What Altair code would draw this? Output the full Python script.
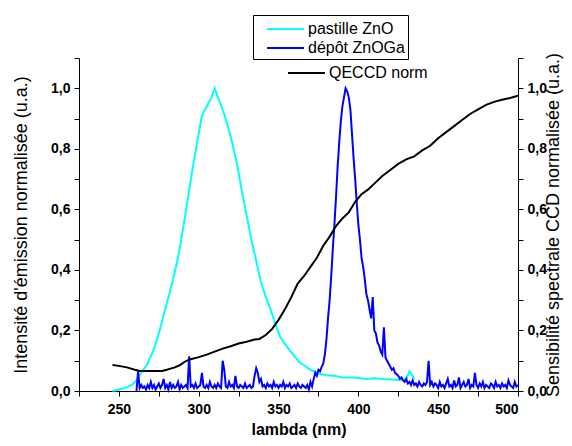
import altair as alt
import pandas as pd

# pastille ZnO (cyan)
zno_nm = [246, 250, 255, 258, 261, 264, 268, 272, 275, 278, 281, 284, 287, 290, 293, 296, 299,
          302, 305, 308, 310, 312, 315, 318, 321, 324, 327, 330, 333, 336, 339, 342, 345, 348,
          351, 354, 357, 360, 363, 366, 370, 375, 380, 385, 390, 395, 400, 405, 410, 415, 420,
          425, 430, 432, 434, 435]
zno_val = [0.0, 0.005, 0.012, 0.02, 0.035, 0.06, 0.09, 0.14, 0.19, 0.25, 0.31, 0.37, 0.44, 0.53,
           0.63, 0.73, 0.82, 0.91, 0.94, 0.97, 1.0, 0.97, 0.93, 0.88, 0.82, 0.75, 0.66, 0.58, 0.50,
           0.43, 0.36, 0.31, 0.27, 0.22, 0.18, 0.155, 0.135, 0.115, 0.095, 0.085, 0.07, 0.058,
           0.052, 0.05, 0.045, 0.045, 0.043, 0.04, 0.042, 0.04, 0.038, 0.036, 0.04, 0.065, 0.05,
           0.04]

# dépôt ZnOGa (blue), one value per nm from 261 to 500
ga_nm = list(range(261, 501))
ga_val = [
    0.0, 0.065, 0.01, 0.02, 0.01, 0.015, 0.005, 0.02, 0.01, 0.03,
    0.01, 0.02, 0.005, 0.015, 0.025, 0.01, 0.02, 0.04, 0.01, 0.02,
    0.005, 0.03, 0.01, 0.02, 0.01, 0.015, 0.03, 0.005, 0.02, 0.01,
    0.015, 0.02, 0.01, 0.115, 0.015, 0.02, 0.01, 0.025, 0.01, 0.015,
    0.02, 0.06, 0.015, 0.01, 0.02, 0.01, 0.03, 0.015, 0.01, 0.02,
    0.01, 0.025, 0.015, 0.01, 0.10, 0.07, 0.015, 0.01, 0.03, 0.015,
    0.02, 0.01, 0.05, 0.015, 0.01, 0.02, 0.015, 0.01, 0.025, 0.01,
    0.015, 0.02, 0.01, 0.015, 0.05, 0.075, 0.06, 0.03, 0.04, 0.015,
    0.02, 0.01, 0.025, 0.015, 0.02, 0.01, 0.03, 0.015, 0.02, 0.01,
    0.02, 0.015, 0.03, 0.01, 0.02, 0.015, 0.025, 0.01, 0.015, 0.02,
    0.01, 0.025, 0.015, 0.01, 0.02, 0.015, 0.01, 0.02, 0.005, 0.03,
    0.015, 0.04, 0.06, 0.05, 0.07, 0.065, 0.08, 0.09, 0.12, 0.17,
    0.24, 0.30, 0.38, 0.47, 0.55, 0.64, 0.74, 0.82, 0.89, 0.94,
    0.97, 1.0, 0.99, 0.97, 0.93, 0.85, 0.77, 0.70, 0.62, 0.55,
    0.50, 0.44, 0.41, 0.37, 0.32, 0.30, 0.27, 0.24, 0.31, 0.20,
    0.19, 0.16, 0.15, 0.13, 0.12, 0.21, 0.11, 0.10, 0.09, 0.08,
    0.07, 0.075, 0.06, 0.055, 0.05, 0.04, 0.045, 0.035, 0.03, 0.04,
    0.025, 0.03, 0.02, 0.035, 0.02, 0.025, 0.015, 0.03, 0.02, 0.015,
    0.025, 0.02, 0.03, 0.10, 0.02, 0.03, 0.015, 0.025, 0.02, 0.01,
    0.03, 0.015, 0.02, 0.01, 0.025, 0.04, 0.015, 0.02, 0.01, 0.035,
    0.015, 0.02, 0.045, 0.01, 0.02, 0.03, 0.015, 0.02, 0.04, 0.01,
    0.02, 0.015, 0.06, 0.02, 0.01, 0.025, 0.015, 0.03, 0.01, 0.02,
    0.015, 0.01, 0.025, 0.02, 0.01, 0.03, 0.015, 0.02, 0.01, 0.025,
    0.015, 0.02, 0.01, 0.035, 0.02, 0.015, 0.01, 0.03, 0.015, 0.02,
]

# QECCD norm (black, right axis)
qe_nm = [246, 250, 255, 260, 263, 270, 277, 280, 285, 288, 292, 295, 300, 305, 310, 315, 320,
         325, 330, 335, 338, 342, 346, 350, 354, 358, 362, 366, 370, 374, 378, 382, 386, 390,
         394, 398, 402, 406, 410, 415, 420, 425, 430, 435, 440, 445, 450, 455, 460, 465, 470,
         475, 480, 485, 490, 495, 500]
qe_val = [0.086, 0.083, 0.078, 0.07, 0.066, 0.066, 0.066, 0.07, 0.078, 0.085, 0.099, 0.105,
          0.112, 0.12, 0.13, 0.14, 0.148, 0.157, 0.163, 0.17, 0.172, 0.185, 0.205, 0.235, 0.27,
          0.31, 0.355, 0.38, 0.41, 0.44, 0.48, 0.51, 0.545, 0.57, 0.59, 0.625, 0.65, 0.665,
          0.685, 0.71, 0.73, 0.75, 0.765, 0.775, 0.795, 0.81, 0.835, 0.855, 0.875, 0.895, 0.915,
          0.93, 0.945, 0.955, 0.962, 0.968, 0.975]

em_series = ["pastille ZnO", "dépôt ZnOGa"]
em_colors = ["#00FFFF", "#0000FF"]
x_ticks = [225, 250, 275, 300, 325, 350, 375, 400, 425, 450, 475, 500]
y_ticks = [0.0, 0.1, 0.2, 0.3, 0.4, 0.5, 0.6, 0.7, 0.8, 0.9, 1.0, 1.1]

FONT = "Liberation Sans"
LINE_SYMBOL = "M0,0H3.7"

df_zno = pd.DataFrame({"nm": zno_nm, "val": zno_val, "serie": em_series[0]})
df_ga = pd.DataFrame({"nm": ga_nm, "val": ga_val, "serie": em_series[1]})
df_qe = pd.DataFrame({"nm": qe_nm, "val": qe_val, "serie": "QECCD norm"})

x_enc = alt.X(
    "nm:Q",
    scale=alt.Scale(domain=[225, 500], nice=False, zero=False),
    axis=alt.Axis(
        values=x_ticks,
        labelExpr="datum.value % 50 == 0 ? datum.label : ''",
        labelPadding=6,
        title="lambda (nm)",
        titleFontWeight="bold",
        titleFontSize=16,
        titlePadding=5,
    ),
)

y_label_expr = "round(datum.value * 10) % 2 == 0 ? replace(format(datum.value, '.1f'), '.', ',') : ''"

y_left = alt.Y(
    "val:Q",
    scale=alt.Scale(domain=[0, 1.1], nice=False),
    axis=alt.Axis(
        orient="left",
        values=y_ticks,
        labelExpr=y_label_expr,
        title="Intensité d'émission normalisée (u.a.)",
        titlePadding=20,
    ),
)

y_right = alt.Y(
    "val:Q",
    scale=alt.Scale(domain=[0, 1.1], nice=False),
    axis=alt.Axis(
        orient="right",
        values=y_ticks,
        labelExpr=y_label_expr,
        title="Sensibilité spectrale CCD normalisée (u.a.)",
        titleAngle=270,
        titlePadding=16,
    ),
)

legend_common = dict(
    orient="none",
    symbolType=LINE_SYMBOL,
    symbolSize=400,
    symbolStrokeWidth=2,
    labelFont=FONT,
    labelFontSize=16,
    labelColor="black",
    labelOffset=30,
    rowPadding=0,
)

em_color = alt.Color(
    "serie:N",
    scale=alt.Scale(domain=em_series, range=em_colors),
    title=None,
    legend=alt.Legend(
        legendX=174,
        legendY=-43,
        strokeColor="black",
        fillColor="white",
        padding=3,
        **legend_common,
    ),
)

qe_color = alt.Color(
    "serie:N",
    scale=alt.Scale(domain=["QECCD norm"], range=["black"]),
    title=None,
    legend=alt.Legend(
        legendX=198,
        legendY=4,
        padding=0,
        **legend_common,
    ),
)

zno_line = alt.Chart(df_zno).mark_line(strokeWidth=2).encode(x=x_enc, y=y_left, color=em_color)
ga_line = alt.Chart(df_ga).mark_line(strokeWidth=2).encode(x=x_enc, y=y_left, color=em_color)
left = alt.layer(zno_line, ga_line)

right = alt.Chart(df_qe).mark_line(strokeWidth=2).encode(x=x_enc, y=y_right, color=qe_color)

chart = (
    alt.layer(left, right)
    .resolve_scale(y="independent", color="independent")
    .properties(
        width=439,
        height=333,
        autosize=alt.AutoSizeParams(type="none"),
        padding={"left": 71, "top": 50, "right": 46, "bottom": 47},
    )
    .configure_view(stroke="transparent")
    .configure_axis(
        grid=False,
        labelFont=FONT,
        labelFontSize=14,
        labelFontWeight="bold",
        labelColor="black",
        titleFont=FONT,
        titleFontSize=18,
        titleFontWeight="normal",
        titleColor="black",
        domainColor="black",
        tickColor="black",
        tickSize=5,
        labelPadding=4,
    )
)

chart.save("out.html", embed_options={"renderer": "svg", "actions": False})
